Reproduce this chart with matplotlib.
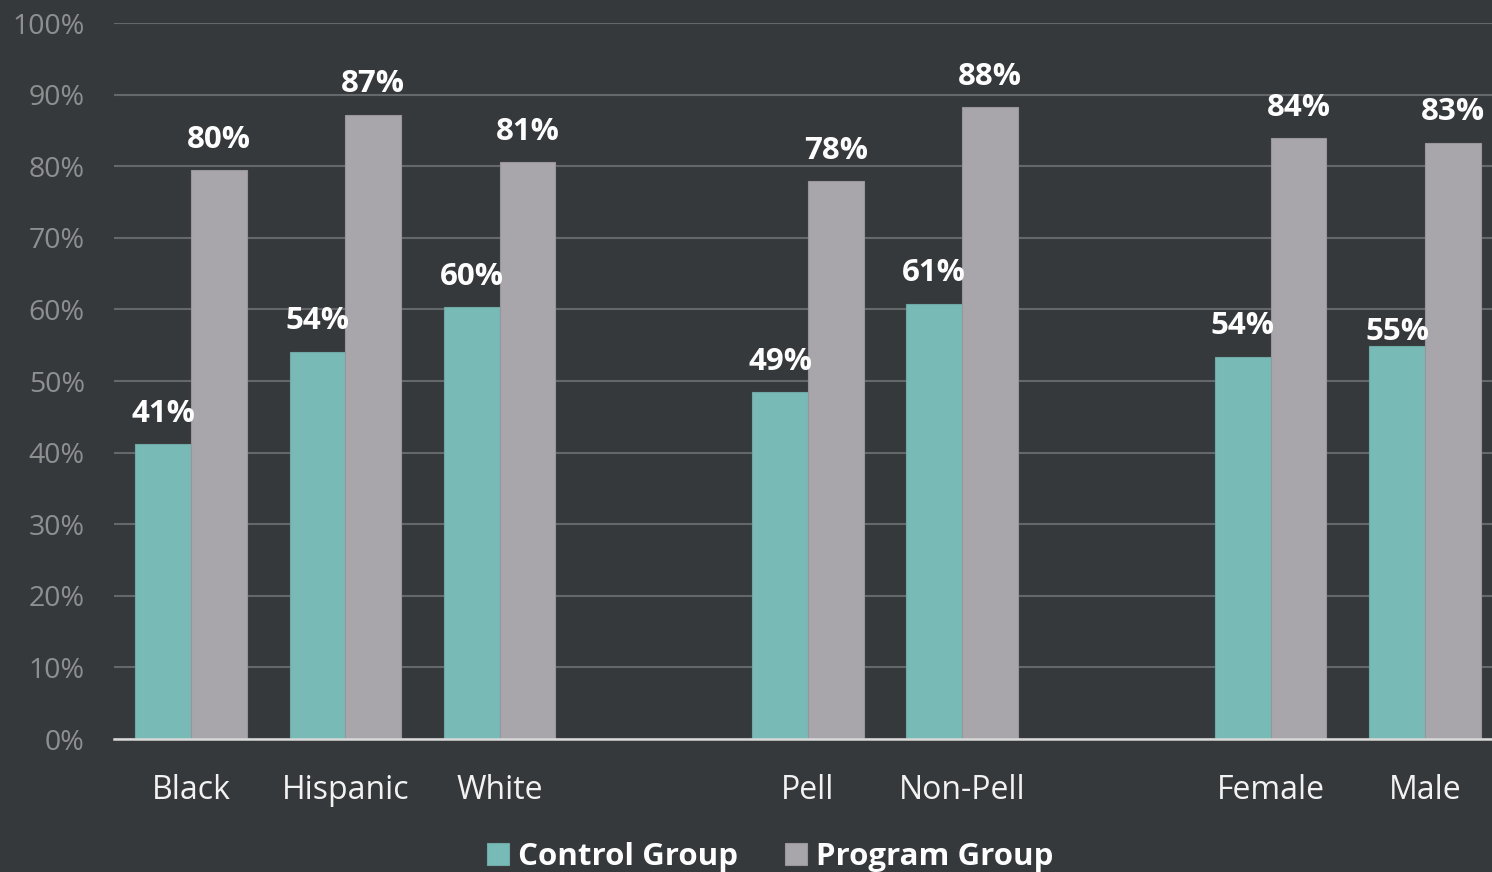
import matplotlib.pyplot as plt
import numpy as np

# data
categories = ['Black', 'Hispanic', 'White', 'Pell', 'Non-Pell', 'Female', 'Male']
slots = [0, 1, 2, 4, 5, 7, 8]  # blank slots separate the three groupings
control = [41.2, 54.1, 60.3, 48.5, 60.8, 53.4, 54.9]
program = [79.4, 87.2, 80.6, 77.9, 88.3, 83.9, 83.3]
control_labels = ['41%', '54%', '60%', '49%', '61%', '54%', '55%']
program_labels = ['80%', '87%', '81%', '78%', '88%', '84%', '83%']
yticks = [0, 10, 20, 30, 40, 50, 60, 70, 80, 90, 100]

bg = '#36393c'
teal = '#78bab5'
grey = '#a8a6ab'

plt.rcParams['font.family'] = ['Open Sans', 'DejaVu Sans']

fig = plt.figure(figsize=(14.92, 8.72), dpi=100, facecolor=bg)
# axes runs past the right edge, as in the cropped original
ax = fig.add_axes([114 / 1492, 133 / 872, 1388 / 1492, 716 / 872])
ax.set_facecolor(bg)

x = np.array(slots, dtype=float)
w = 0.362
b1 = ax.bar(x - w / 2, control, w, color=teal, edgecolor='#6fa9a5', linewidth=0.8,
            label='Control Group', zorder=3)
b2 = ax.bar(x + w / 2, program, w, color=grey, edgecolor='#98969b', linewidth=0.8,
            label='Program Group', zorder=3)

# label offsets in points (the Male control label sits lower in the original)
control_offsets = [16, 16, 16, 16, 16, 16, 4]
program_offsets = [16] * 7

for bars, labels, offs in ((b1, control_labels, control_offsets),
                           (b2, program_labels, program_offsets)):
    for rect, lab, off in zip(bars, labels, offs):
        ax.annotate(lab, (rect.get_x() + rect.get_width() / 2, rect.get_height()),
                    xytext=(0, off), textcoords='offset points', ha='center',
                    va='baseline', color='white', fontsize=22.5, fontweight='bold',
                    zorder=4)

ax.set_xlim(-0.5, 8.5)
ax.set_ylim(0, 100)
ax.set_yticks(yticks)
ax.set_yticklabels([f'{v}%' for v in yticks])
ax.set_xticks(x)
ax.set_xticklabels(categories)

ax.yaxis.grid(True, color='#65686b', linewidth=1.5, zorder=0)
ax.set_axisbelow(True)
for s in ['top', 'right', 'left']:
    ax.spines[s].set_visible(False)
ax.spines['bottom'].set_color('#d9d9d9')
ax.spines['bottom'].set_linewidth(1.8)
ax.spines['bottom'].set_zorder(5)

ax.tick_params(axis='y', length=0, pad=21, labelsize=20.5, labelcolor='#8e8f91')
ax.tick_params(axis='x', length=0, pad=25, labelsize=23, labelcolor='#f2f2f2')

fig.legend(handles=[b1, b2], loc='center', bbox_to_anchor=(770 / 1492, 1 - 857 / 872),
           ncol=2, frameon=False, handlelength=0.7, handleheight=0.7,
           handletextpad=0.3, columnspacing=1.5,
           prop={'weight': 'bold', 'size': 22.5})
for t in fig.legends[0].get_texts():
    t.set_color('white')

fig.savefig('out.png', dpi=100, facecolor=bg)
